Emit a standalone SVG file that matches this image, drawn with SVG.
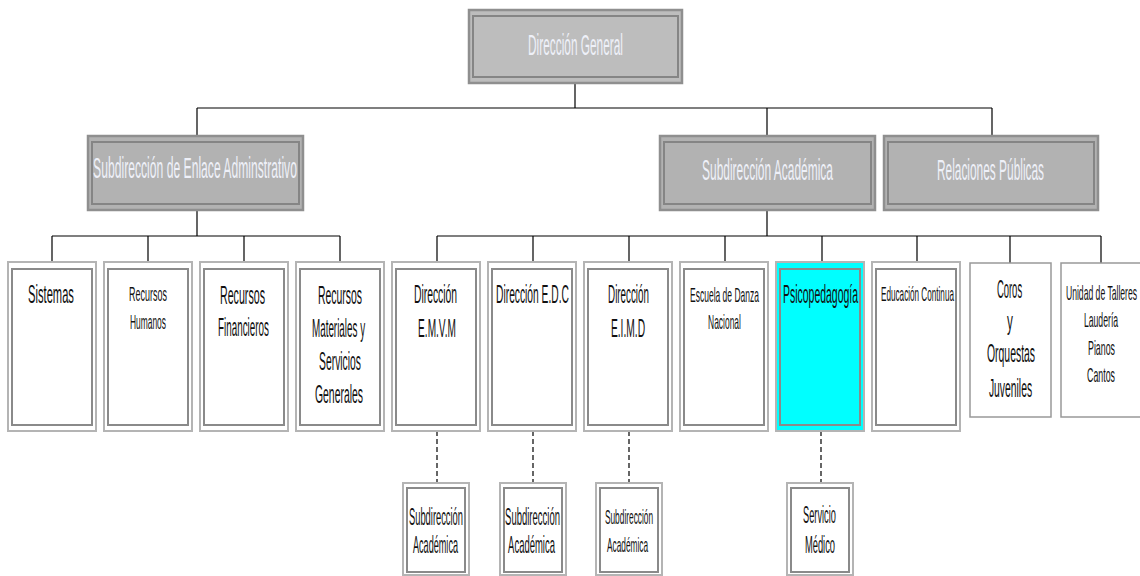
<svg xmlns="http://www.w3.org/2000/svg" width="1140" height="576" viewBox="0 0 1140 576">
<style>
.hdr{fill:#bdbdbd;stroke:#8f8f8f;stroke-width:2.5}
.hdr2{fill:#b2b2b2;stroke:#8f8f8f;stroke-width:2.5}
.hin{fill:none;stroke:#858585;stroke-width:2}
.bo{fill:#fff;stroke:#b4b4b4;stroke-width:2}
.bi{fill:none;stroke:#8a8a8a;stroke-width:2}
.cy{fill:#00ffff;stroke:#b4b4b4;stroke-width:2}
.sb{fill:#fff;stroke:#999;stroke-width:1.5}
.ht{font-family:"Liberation Sans",Arial,sans-serif;fill:#eef0f8;text-anchor:middle}
.t{font-family:"Liberation Sans",Arial,sans-serif;fill:#111;text-anchor:middle}
.ln{stroke:#000;stroke-width:1.2;fill:none}
.dl{stroke:#000;stroke-width:1.2;fill:none;stroke-dasharray:5 3}
</style>
<g id="connectors">
<path class="ln" d="M575 83V108M197 108H992M197 108V136M767 108V136M992 108V136"/>
<path class="ln" d="M197 210V236M52 236H340M52 236V262M148 236V262M244 236V262M340 236V262"/>
<path class="ln" d="M767 210V236M437 236H1101M437 236V262M533 236V262M629 236V262M725 236V262M822 236V262M917 236V262M1010 236V263M1101 236V263"/>
<path class="dl" d="M437 431V483M533 431V483M629 431V483M821 431V483"/>
</g>
<g id="direccion-general">
<rect class="hdr" x="469" y="10" width="213" height="73"/><rect class="hin" x="473" y="16" width="205" height="61"/>
<text class="ht" transform="translate(575.5 55) scale(0.45 1)" font-size="30" textLength="211" lengthAdjust="spacingAndGlyphs">Dirección General</text>
</g>
<g id="subdireccion-enlace">
<rect class="hdr2" x="88" y="136" width="215" height="74"/><rect class="hin" x="92" y="142" width="207" height="62"/>
<text class="ht" transform="translate(195 178) scale(0.45 1)" font-size="29" textLength="453" lengthAdjust="spacingAndGlyphs">Subdirección de Enlace Adminstrativo</text>
</g>
<g id="subdireccion-academica">
<rect class="hdr2" x="660" y="136" width="215" height="74"/><rect class="hin" x="664" y="142" width="207" height="62"/>
<text class="ht" transform="translate(767.5 180) scale(0.45 1)" font-size="29" textLength="291" lengthAdjust="spacingAndGlyphs">Subdirección Académica</text>
</g>
<g id="relaciones-publicas">
<rect class="hdr2" x="884" y="136" width="214" height="74"/><rect class="hin" x="888" y="142" width="206" height="62"/>
<text class="ht" transform="translate(990.5 180) scale(0.45 1)" font-size="29" textLength="238" lengthAdjust="spacingAndGlyphs">Relaciones Públicas</text>
</g>
<g id="sistemas">
<rect class="bo" x="8" y="262" width="88" height="169"/><rect class="bi" x="12" y="269" width="80" height="156"/>
<text class="t" transform="translate(51 303) scale(0.45 1)" font-size="25" textLength="102" lengthAdjust="spacingAndGlyphs">Sistemas</text>
</g>
<g id="recursos-humanos">
<rect class="bo" x="104" y="262" width="88" height="169"/><rect class="bi" x="108" y="269" width="80" height="156"/>
<text class="t" transform="translate(148 301) scale(0.45 1)" font-size="21" textLength="84" lengthAdjust="spacingAndGlyphs">Recursos</text>
<text class="t" transform="translate(148 329) scale(0.45 1)" font-size="21" textLength="80" lengthAdjust="spacingAndGlyphs">Humanos</text>
</g>
<g id="recursos-financieros">
<rect class="bo" x="200" y="262" width="88" height="169"/><rect class="bi" x="204" y="269" width="80" height="156"/>
<text class="t" transform="translate(242.5 304) scale(0.45 1)" font-size="25" textLength="100" lengthAdjust="spacingAndGlyphs">Recursos</text>
<text class="t" transform="translate(243.5 336) scale(0.45 1)" font-size="25" textLength="113" lengthAdjust="spacingAndGlyphs">Financieros</text>
</g>
<g id="recursos-materiales">
<rect class="bo" x="296" y="262" width="88" height="169"/><rect class="bi" x="300" y="269" width="80" height="156"/>
<text class="t" transform="translate(340 304) scale(0.45 1)" font-size="25" textLength="98" lengthAdjust="spacingAndGlyphs">Recursos</text>
<text class="t" transform="translate(338.5 337) scale(0.45 1)" font-size="25" textLength="118" lengthAdjust="spacingAndGlyphs">Materiales y</text>
<text class="t" transform="translate(340 370) scale(0.45 1)" font-size="25" textLength="93" lengthAdjust="spacingAndGlyphs">Servicios</text>
<text class="t" transform="translate(339 403) scale(0.45 1)" font-size="25" textLength="107" lengthAdjust="spacingAndGlyphs">Generales</text>
</g>
<g id="direccion-emvm">
<rect class="bo" x="392" y="262" width="88" height="169"/><rect class="bi" x="396" y="269" width="80" height="156"/>
<text class="t" transform="translate(435.5 303) scale(0.45 1)" font-size="25" textLength="96" lengthAdjust="spacingAndGlyphs">Dirección</text>
<text class="t" transform="translate(437 337) scale(0.45 1)" font-size="25" textLength="84" lengthAdjust="spacingAndGlyphs">E.M.V.M</text>
</g>
<g id="direccion-edc">
<rect class="bo" x="488" y="262" width="88" height="169"/><rect class="bi" x="492" y="269" width="80" height="156"/>
<text class="t" transform="translate(532.5 303) scale(0.45 1)" font-size="25" textLength="162" lengthAdjust="spacingAndGlyphs">Dirección E.D.C</text>
</g>
<g id="direccion-eimd">
<rect class="bo" x="584" y="262" width="88" height="169"/><rect class="bi" x="588" y="269" width="80" height="156"/>
<text class="t" transform="translate(628.5 303) scale(0.45 1)" font-size="25" textLength="91" lengthAdjust="spacingAndGlyphs">Dirección</text>
<text class="t" transform="translate(628 337) scale(0.45 1)" font-size="25" textLength="76" lengthAdjust="spacingAndGlyphs">E.I.M.D</text>
</g>
<g id="escuela-danza">
<rect class="bo" x="680" y="262" width="88" height="169"/><rect class="bi" x="684" y="269" width="80" height="156"/>
<text class="t" transform="translate(724.5 302) scale(0.45 1)" font-size="20" textLength="153" lengthAdjust="spacingAndGlyphs">Escuela de Danza</text>
<text class="t" transform="translate(724.5 329) scale(0.45 1)" font-size="20" textLength="73" lengthAdjust="spacingAndGlyphs">Nacional</text>
</g>
<g id="psicopedagogia">
<rect class="cy" x="776" y="262" width="88" height="169"/><rect class="bi" x="780" y="269" width="80" height="156"/>
<text class="t" transform="translate(820.5 303) scale(0.45 1)" font-size="25" textLength="167" lengthAdjust="spacingAndGlyphs">Psicopedagogía</text>
</g>
<g id="educacion-continua">
<rect class="bo" x="872" y="262" width="88" height="169"/><rect class="bi" x="876" y="269" width="80" height="156"/>
<text class="t" transform="translate(917.5 301) scale(0.45 1)" font-size="20" textLength="162" lengthAdjust="spacingAndGlyphs">Educación Continua</text>
</g>
<g id="coros-orquestas">
<rect class="sb" x="970" y="263" width="81" height="154"/>
<text class="t" transform="translate(1009.5 298) scale(0.45 1)" font-size="25" textLength="56" lengthAdjust="spacingAndGlyphs">Coros</text>
<text class="t" transform="translate(1010 330) scale(0.45 1)" font-size="25" textLength="13" lengthAdjust="spacingAndGlyphs">y</text>
<text class="t" transform="translate(1011 362) scale(0.45 1)" font-size="25" textLength="107" lengthAdjust="spacingAndGlyphs">Orquestas</text>
<text class="t" transform="translate(1010.5 397) scale(0.45 1)" font-size="25" textLength="96" lengthAdjust="spacingAndGlyphs">Juveniles</text>
</g>
<g id="unidad-talleres">
<rect class="sb" x="1061" y="263" width="82" height="154"/>
<text class="t" transform="translate(1101.5 300) scale(0.45 1)" font-size="20" textLength="158" lengthAdjust="spacingAndGlyphs">Unidad de Talleres</text>
<text class="t" transform="translate(1101 327) scale(0.45 1)" font-size="20" textLength="76" lengthAdjust="spacingAndGlyphs">Laudería</text>
<text class="t" transform="translate(1101.5 355) scale(0.45 1)" font-size="20" textLength="60" lengthAdjust="spacingAndGlyphs">Pianos</text>
<text class="t" transform="translate(1101 382) scale(0.45 1)" font-size="20" textLength="62" lengthAdjust="spacingAndGlyphs">Cantos</text>
</g>
<g id="subdireccion-academica-1">
<rect class="bo" x="403" y="483" width="66" height="92"/><rect class="bi" x="407" y="488" width="58" height="84"/>
<text class="t" transform="translate(436 525) scale(0.45 1)" font-size="24" textLength="120" lengthAdjust="spacingAndGlyphs">Subdirección</text>
<text class="t" transform="translate(435.5 553) scale(0.45 1)" font-size="24" textLength="100" lengthAdjust="spacingAndGlyphs">Académica</text>
</g>
<g id="subdireccion-academica-2">
<rect class="bo" x="500" y="483" width="66" height="92"/><rect class="bi" x="504" y="488" width="58" height="84"/>
<text class="t" transform="translate(532.5 525) scale(0.45 1)" font-size="24" textLength="122" lengthAdjust="spacingAndGlyphs">Subdirección</text>
<text class="t" transform="translate(531.5 553) scale(0.45 1)" font-size="24" textLength="104" lengthAdjust="spacingAndGlyphs">Académica</text>
</g>
<g id="subdireccion-academica-3">
<rect class="bo" x="596" y="483" width="66" height="92"/><rect class="bi" x="600" y="488" width="58" height="84"/>
<text class="t" transform="translate(629 524) scale(0.45 1)" font-size="21" textLength="107" lengthAdjust="spacingAndGlyphs">Subdirección</text>
<text class="t" transform="translate(627.5 552) scale(0.45 1)" font-size="21" textLength="91" lengthAdjust="spacingAndGlyphs">Académica</text>
</g>
<g id="servicio-medico">
<rect class="bo" x="787" y="483" width="66" height="92"/><rect class="bi" x="791" y="488" width="58" height="84"/>
<text class="t" transform="translate(819.5 523) scale(0.45 1)" font-size="23" textLength="73" lengthAdjust="spacingAndGlyphs">Servicio</text>
<text class="t" transform="translate(820 553) scale(0.45 1)" font-size="23" textLength="67" lengthAdjust="spacingAndGlyphs">Médico</text>
</g>
</svg>
